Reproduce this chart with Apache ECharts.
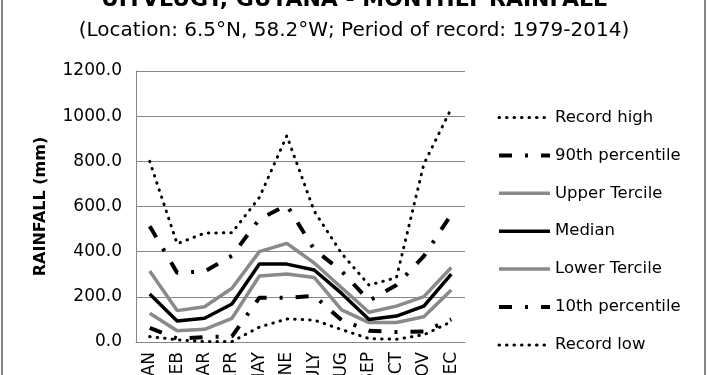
<!DOCTYPE html>
<html>
<head>
<meta charset="utf-8">
<script src="https://cdn.jsdelivr.net/npm/echarts@6/dist/echarts.min.js"></script>
<style>
html,body{margin:0;padding:0;background:#fff;}
#c{width:708px;height:375px;}
</style>
</head>
<body>
<div id="c"></div>
<script>
const months = ['JAN','FEB','MAR','APR','MAY','JUNE','JULY','AUG','SEP','OCT','NOV','DEC'];
const yTicks = [0, 200, 400, 600, 800, 1000, 1200];
const recordHigh = [800, 435, 482, 484, 640, 913, 580, 392, 252, 285, 788, 1034];
const pct90 = [513, 307, 312, 382, 544, 606, 410, 314, 183, 252, 380, 565];
const upperTercile = [314, 139, 156, 238, 400, 437, 350, 240, 132, 159, 201, 330];
const median = [212, 93, 105, 168, 345, 345, 319, 215, 100, 115, 159, 301];
const lowerTercile = [127, 50, 56, 105, 292, 301, 286, 142, 86, 86, 112, 230];
const pct10 = [63, 15, 22, 25, 196, 196, 204, 97, 50, 44, 47, 100];
const recordLow = [24, 10, 2, 2, 66, 102, 97, 55, 15, 12, 32, 90];

const FONT = 'DejaVu Sans';
const GRAY = '#8a8a8a';
const dotted = {color:'#000', width:3, type:[0.5, 7], cap:'round'};
const dashDot = {color:'#000', width:4, type:[13, 13, 3, 13], cap:'butt'};
const grayLine = {color:GRAY, width:3.5, type:'solid'};
const blackLine = {color:'#000', width:3.5, type:'solid'};

const seriesDefs = [
  ['Record high', recordHigh, dotted, 3],
  ['90th percentile', pct90, dashDot, 3],
  ['Upper Tercile', upperTercile, grayLine, 2],
  ['Median', median, blackLine, 4],
  ['Lower Tercile', lowerTercile, grayLine, 2],
  ['10th percentile', pct10, dashDot, 3],
  ['Record low', recordLow, dotted, 3]
];

const chart = echarts.init(document.getElementById('c'), null, {renderer:'canvas'});
chart.setOption({
  animation:false,
  textStyle:{fontFamily:FONT, color:'#000'},
  title:[
    {text:'UITVLUGT, GUYANA - MONTHLY RAINFALL', left:'center', top:-16,
     textStyle:{fontFamily:FONT, fontSize:22, fontWeight:'bold', color:'#000'}},
    {text:'(Location: 6.5°N, 58.2°W; Period of record: 1979-2014)', left:'center', top:16,
     textStyle:{fontFamily:FONT, fontSize:20, fontWeight:'normal', color:'#000'}}
  ],
  grid:{left:136, right:243, top:71, bottom:33, containLabel:false, outerBoundsMode:'none'},
  legend:{
    orient:'vertical', left:492, top:104, itemWidth:51, itemHeight:15, itemGap:20.9,
    textStyle:{fontFamily:FONT, fontSize:16.5, color:'#000', lineHeight:15},
    itemStyle:{opacity:0},
    data:seriesDefs.map(d => ({name:d[0], lineStyle:Object.assign({}, d[2]), itemStyle:{opacity:0}})),
    selectedMode:false
  },
  xAxis:{
    type:'category', data:months, boundaryGap:true,
    axisLine:{lineStyle:{color:'#868686', width:1}},
    axisTick:{show:false},
    axisLabel:{rotate:90, margin:10, fontFamily:FONT, fontSize:17, color:'#000', interval:0}
  },
  yAxis:{
    type:'value', min:yTicks[0], max:yTicks[yTicks.length-1], interval:200,
    name:'RAINFALL (mm)', nameLocation:'middle', nameRotate:90, nameGap:87,
    nameTextStyle:{fontFamily:FONT, fontSize:16, fontWeight:'bold', color:'#000'},
    axisLine:{show:true, lineStyle:{color:'#868686', width:1}},
    axisTick:{show:false},
    splitLine:{lineStyle:{color:'#868686', width:1}},
    axisLabel:{margin:14, fontFamily:FONT, fontSize:17, color:'#000', formatter:v=>v.toFixed(1)}
  },
  graphic:[{type:'rect', shape:{x:2, y:-5, width:703, height:390}, style:{fill:'none', stroke:'#868686', lineWidth:2}, silent:true}],
  series:seriesDefs.map(d => ({
    name:d[0], type:'line', data:d[1], symbol:'none', showSymbol:false,
    lineStyle:d[2], itemStyle:{color:d[2].color}, z:d[3], animation:false, emphasis:{disabled:true}
  }))
});
</script>
</body>
</html>
